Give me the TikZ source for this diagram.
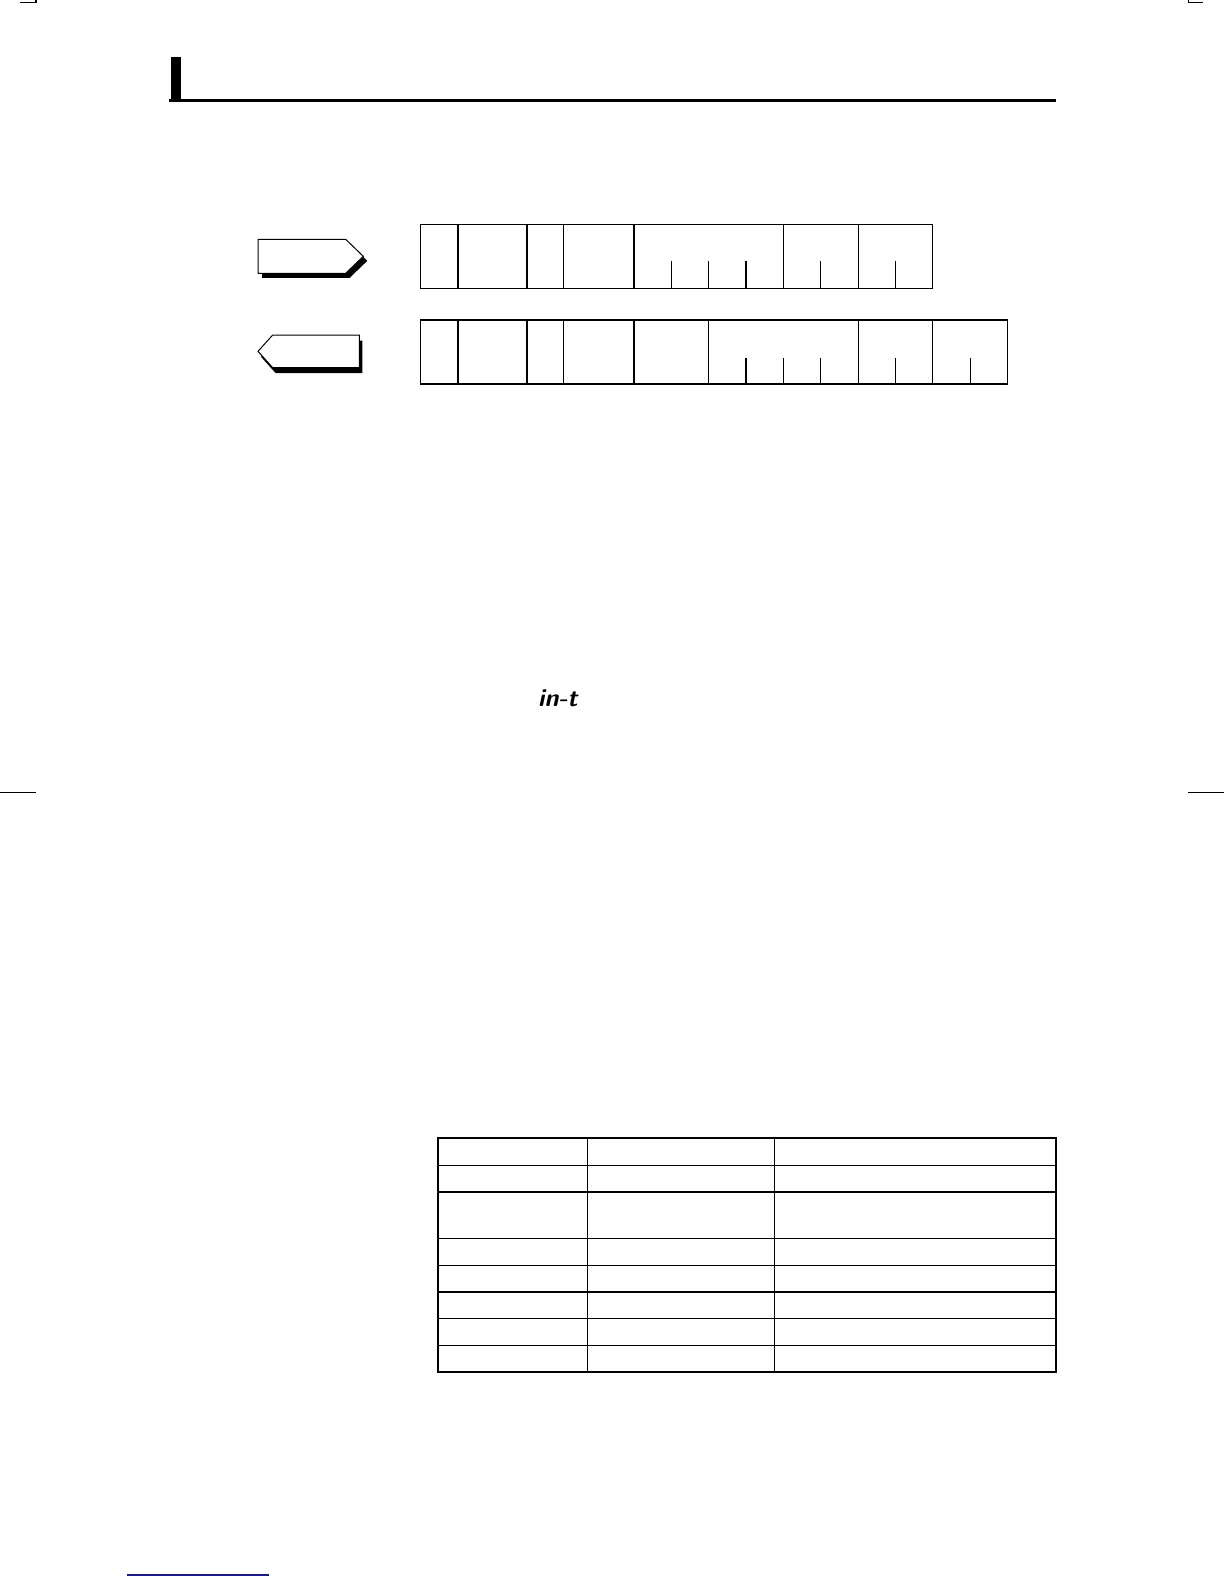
\documentclass[tikz,border=0pt]{standalone}
\usepackage{tikz}
\usetikzlibrary{positioning,matrix}

\definecolor{navyline}{RGB}{25,25,135}
\newcommand{\cellw}{37.35}

\tikzset{
  frameline/.style={line width=0.6bp},
  tagbox/.style={draw=black, line width=0.5bp, fill=white},
  tagshadow/.style={fill=black, draw=none},
  cropmark/.style={line width=0.6bp},
}

\begin{document}
\begin{tikzpicture}[x=0.5bp, y=-0.5bp]
  \useasboundingbox (0,0) rectangle (1224,1584);

  % Segni di taglio
  \draw[cropmark] (20,2.7) -- (36,2.7) -- (36,0);
  \draw[cropmark] (1203,2.7) -- (1188.3,2.7) -- (1188.3,0);
  \draw[cropmark] (0,792.3) -- (36,792.3);
  \draw[cropmark] (1188,792.3) -- (1224,792.3);
  \draw[line width=0.75bp, navyline] (127,1575) -- (269,1575);

  % Intestazione
  \fill (170.5,57) rectangle (180.5,101);
  \draw[line width=1.65bp] (169,100.3) -- (1056,100.3);

  % Frecce (invio / ricezione)
  \fill[tagshadow, shift={(4,4.5)}] (258,239.3) -- (345.7,239.3) -- (363.3,256.3) -- (345.7,273.3) -- (258,273.3) -- cycle;
  \draw[tagbox] (258,239.3) -- (345.7,239.3) -- (363.3,256.3) -- (345.7,273.3) -- (258,273.3) -- cycle;
  \fill[tagshadow, shift={(3,5.5)}] (272.7,335) -- (359.3,335) -- (359.3,367.7) -- (272.7,367.7) -- (258,351.3) -- cycle;
  \draw[tagbox] (272.7,335) -- (359.3,335) -- (359.3,367.7) -- (272.7,367.7) -- (258,351.3) -- cycle;

  % Frame di comando
  \draw[frameline] (420.3,224.3) rectangle (634+8*\cellw,288.3);
  \foreach \x in {458,527,563.5,634}
    \draw[frameline] (\x,224.3) -- (\x,288.3);
  \foreach \k in {4,6}
    \draw[frameline] (634+\k*\cellw,224.3) -- (634+\k*\cellw,288.3);
  \foreach \k in {1,2,3,5,7}
    \draw[frameline] (634+\k*\cellw,261) -- (634+\k*\cellw,288.3);

  % Frame di risposta
  \draw[frameline] (420.3,320) rectangle (634+10*\cellw,384);
  \foreach \x in {458,527,563.5,634}
    \draw[frameline] (\x,320) -- (\x,384);
  \foreach \k in {2,6,8}
    \draw[frameline] (634+\k*\cellw,320) -- (634+\k*\cellw,384);
  \foreach \k in {3,4,5,7,9}
    \draw[frameline] (634+\k*\cellw,357.7) -- (634+\k*\cellw,384);

  % Display
  \node[font=\fontsize{12.5}{12.5}\sffamily\bfseries\slshape, inner sep=0pt] (intlabel) at (558,698) {in-t};

  % Tabella
  \matrix (table) [
    matrix of nodes,
    nodes in empty cells,
    anchor=north west,
    inner sep=0pt,
    line width=0.55bp,
    nodes={draw, inner sep=0pt, line width=0.55bp, minimum height=13.3bp},
    column 1/.style={nodes={minimum width=74.5bp}},
    column 2/.style={nodes={minimum width=93.5bp}},
    column 3/.style={nodes={minimum width=140.5bp}},
    row 3/.style={nodes={minimum height=23.4bp}},
    column sep=-\pgflinewidth,
    row sep=-\pgflinewidth] at (437.3,1137.7)
  {
    & & \\
    & & \\
    & & \\
    & & \\
    & & \\
    & & \\
    & & \\
    & & \\
  };
  \draw[line width=1.1bp] (table-1-1.north west) rectangle (table-8-3.south east);
\end{tikzpicture}
\end{document}
